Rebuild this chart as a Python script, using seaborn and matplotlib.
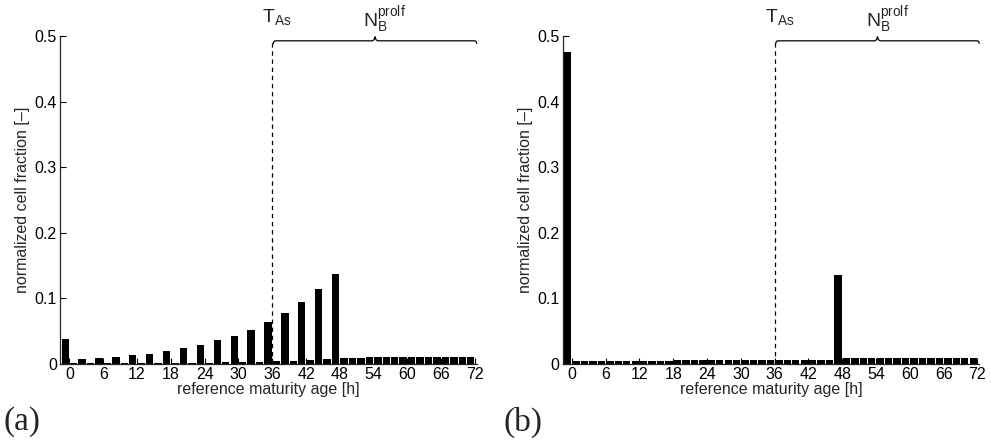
import numpy as np
import pandas as pd
import matplotlib
matplotlib.use("Agg")
import matplotlib.pyplot as plt
import seaborn as sns

# reference maturity age classes [h], 1.5 h apart
ages = np.arange(0, 73.5, 1.5)

# (a) normalized cell fraction per age class
frac_a = [0.038, 0.0010, 0.0073, 0.0010, 0.0089, 0.0011, 0.0104, 0.0012,
          0.0130, 0.0013, 0.0156, 0.0015, 0.0198, 0.0017, 0.0240, 0.0019,
          0.0290, 0.0022, 0.0360, 0.0025, 0.0430, 0.0029, 0.0520, 0.0034,
          0.0640, 0.0042, 0.0780, 0.0052, 0.0940, 0.0063, 0.1140, 0.0078,
          0.1370,
          0.0098, 0.0099, 0.0099, 0.0100, 0.0100, 0.0101, 0.0101, 0.0102,
          0.0102, 0.0103, 0.0103, 0.0104, 0.0104, 0.0105, 0.0105, 0.0106]

# (b) normalized cell fraction per age class
frac_b = [0.476,
          0.0048, 0.0048, 0.0049, 0.0049, 0.0050, 0.0050, 0.0051, 0.0051,
          0.0052, 0.0052, 0.0053, 0.0053, 0.0054, 0.0055, 0.0055, 0.0056,
          0.0057, 0.0057, 0.0058, 0.0059, 0.0059, 0.0060, 0.0061, 0.0061,
          0.0062, 0.0063, 0.0063, 0.0064, 0.0065, 0.0066, 0.0067,
          0.1360,
          0.0086, 0.0087, 0.0088, 0.0088, 0.0089, 0.0090, 0.0091, 0.0091,
          0.0092, 0.0093, 0.0094, 0.0095, 0.0096, 0.0097, 0.0098, 0.0099]

t_as = 36.0          # start of the proliferation window [h]
t_end = 72.0
xticks = list(range(0, 73, 6))
yticks = [0, 0.1, 0.2, 0.3, 0.4, 0.5]
panel_labels = ["(a)", "(b)"]

sns.set_style("ticks")
plt.rcParams["font.family"] = ["Liberation Sans", "DejaVu Sans"]
plt.rcParams["mathtext.fontset"] = "custom"
plt.rcParams["mathtext.rm"] = "Liberation Sans"
plt.rcParams["axes.linewidth"] = 0.9

fig = plt.figure(figsize=(9.91, 4.41), dpi=100)
W = 0.42
axes = [fig.add_axes([0.061, 0.1746, W, 0.744]),
        fig.add_axes([0.568, 0.1746, W, 0.744])]


def brace(ax, x0, x1, y, h):
    """Horizontal curly brace opening downwards, drawn in data coords."""
    xm = 0.5 * (x0 + x1)
    c = 0.5
    xs = [x0, x0 + 0.1 * c, x0 + 0.35 * c, x0 + c, xm - c, xm - 0.35 * c,
          xm, xm + 0.35 * c, xm + c, x1 - c, x1 - 0.35 * c, x1 - 0.1 * c, x1]
    ys = [y - h, y - 0.45 * h, y - 0.1 * h, y, y, y + 0.4 * h, y + 1.6 * h,
          y + 0.4 * h, y, y, y - 0.1 * h, y - 0.45 * h, y - h]
    ax.plot(xs, ys, color="black", lw=0.9, clip_on=False,
            solid_capstyle="round", solid_joinstyle="round")


FS = 11.5
for ax, frac, lab, xl in zip(axes, [frac_a, frac_b], panel_labels,
                             [0.004, 0.508]):
    df = pd.DataFrame({"age": ages - 0.75, "frac": frac})
    sns.barplot(data=df, x="age", y="frac", native_scale=True, width=0.87,
                color="black", saturation=1, edgecolor="none", linewidth=0,
                errorbar=None, ax=ax)
    ax.set_xlim(-1.6, 72.3)
    ax.set_ylim(0, 0.5)
    ax.set_xticks(xticks)
    ax.set_xticklabels([str(t) for t in xticks])
    ax.set_yticks(yticks)
    ax.set_yticklabels(["0", "0.1", "0.2", "0.3", "0.4", "0.5"])
    ax.tick_params(direction="in", length=4, width=0.8, labelsize=FS,
                   pad=2.5, colors="black")
    ax.tick_params(axis="x", pad=2)
    for s in ["top", "right"]:
        ax.spines[s].set_visible(False)
    ax.set_xlabel("reference maturity age [h]", fontsize=FS, labelpad=0.5)
    ax.set_ylabel("normalized cell fraction [\u2013]", fontsize=FS,
                  labelpad=3)

    ax.plot([t_as, t_as], [0, 0.494], color="black", lw=0.9,
            ls=(0, (3.5, 3)), clip_on=False)
    brace(ax, t_as + 0.2, t_end + 0.3, 0.4925, 0.004)
    ax.text(34.2, 0.521, r"$\mathregular{T_{As}}$", fontsize=14,
            ha="left", va="baseline")
    ax.text(52.2, 0.513, r"$\mathregular{N_B^{prolf}}$", fontsize=14,
            ha="left", va="baseline")

    fig.text(xl, 0.043, lab, family=["Liberation Serif", "DejaVu Serif"],
             fontsize=24, va="center", ha="left")

fig.savefig("out.png", dpi=100)
